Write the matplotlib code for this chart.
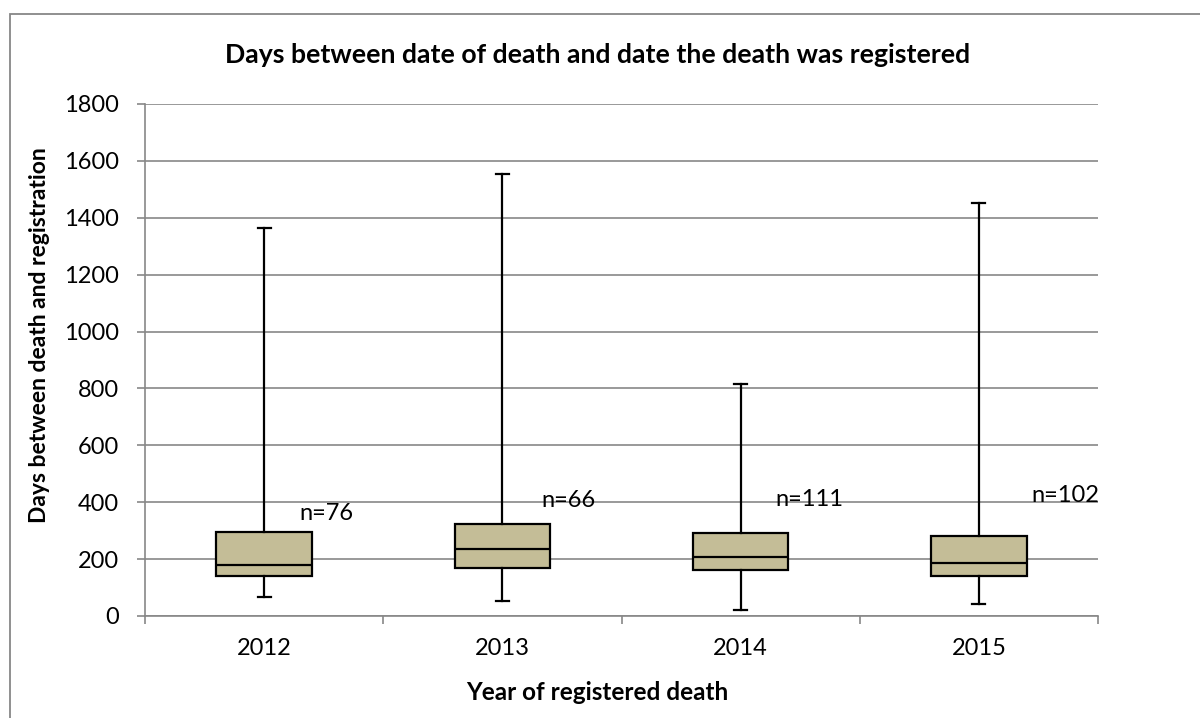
import matplotlib
matplotlib.use("Agg")
import matplotlib.pyplot as plt
from matplotlib.patches import Rectangle

plt.rcParams['font.family'] = ['Lato', 'DejaVu Sans']

years = ["2012", "2013", "2014", "2015"]
whisker_low = [68, 52, 20, 43]
q1 = [140, 167, 160, 140]
median = [180, 237, 208, 188]
q3 = [295, 322, 293, 283]
whisker_high = [1365, 1554, 816, 1451]
n_labels = ["n=76", "n=66", "n=111", "n=102"]

# placement of the n= annotations (x offset from category centre, y in days)
label_dx = [0.148, 0.165, 0.144, 0.22]
label_y = [362, 405, 408, 422]

GRID = "#878787"
BOX = "#C4BD97"
TICK_FS = 17

fig = plt.figure(figsize=(12, 7.18), dpi=100)
ax = fig.add_axes([145 / 1200, 1 - 616 / 718, (1098 - 145) / 1200, (616 - 104) / 718])

stats = []
for i, y in enumerate(years):
    stats.append(dict(label=y, whislo=whisker_low[i], q1=q1[i], med=median[i],
                      q3=q3[i], whishi=whisker_high[i], fliers=[]))

positions = list(range(len(years)))
ax.bxp(stats, positions=positions, widths=0.4, patch_artist=True,
       showfliers=False, capwidths=0.055,
       boxprops=dict(facecolor=BOX, edgecolor="black", linewidth=1.6),
       medianprops=dict(color="black", linewidth=1.6),
       whiskerprops=dict(color="black", linewidth=1.6),
       capprops=dict(color="black", linewidth=1.6))

for i, txt in enumerate(n_labels):
    ax.text(positions[i] + label_dx[i], label_y[i], txt, ha="left", va="center",
            fontsize=TICK_FS, color="black")

ax.set_xlim(-0.5, len(years) - 0.5)
ax.set_ylim(0, 1800)
ax.set_yticks(range(0, 1801, 200))
ax.yaxis.grid(True, color=GRID, linewidth=1.2)
ax.set_axisbelow(True)

ax.set_xticks(positions)
ax.set_xticklabels(years)
ax.set_xticks([p - 0.5 for p in positions] + [len(years) - 0.5], minor=True)
ax.tick_params(axis="x", which="major", length=0, pad=16, labelsize=TICK_FS)
ax.tick_params(axis="x", which="minor", length=6, width=1.2, color=GRID, direction="out")
ax.tick_params(axis="y", length=6, width=1.2, color=GRID, direction="out", pad=13,
               labelsize=TICK_FS)

for side in ("top", "right"):
    ax.spines[side].set_visible(False)
for side in ("left", "bottom"):
    ax.spines[side].set_color(GRID)
    ax.spines[side].set_linewidth(1.2)

fig.text(0.498, 1 - 55 / 718, "Days between date of death and date the death was registered",
         ha="center", va="center", fontsize=19.2, fontweight="bold")
fig.text(597 / 1200, 1 - 693 / 718, "Year of registered death",
         ha="center", va="center", fontsize=17.5, fontweight="bold")
fig.text(40 / 1200, 1 - 335 / 718, "Days between death and registration",
         ha="center", va="center", rotation=90, fontsize=16.5, fontweight="bold")

fig.patches.append(Rectangle((10 / 1200, -0.1), 1.2, 1 - 14 / 718 + 0.1,
                             transform=fig.transFigure, fill=False,
                             edgecolor=GRID, linewidth=1.3))

fig.savefig("out.png", dpi=100)
